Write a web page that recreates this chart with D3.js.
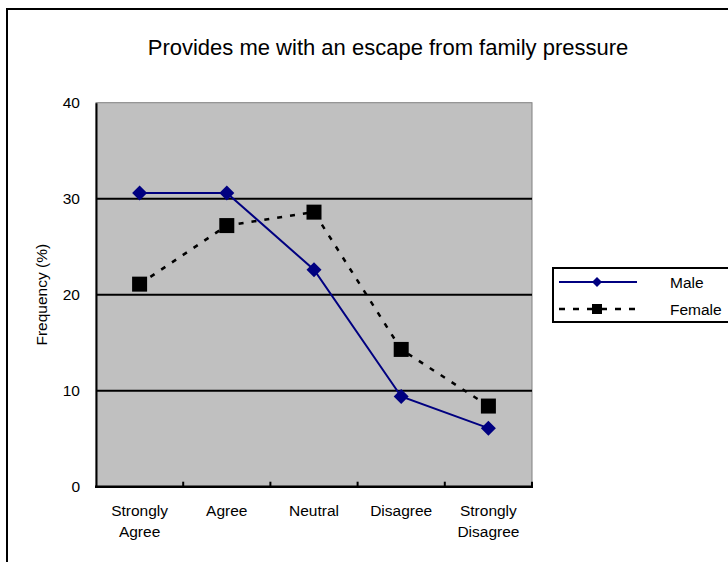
<!DOCTYPE html>
<html>
<head>
<meta charset="utf-8">
<script src="https://cdn.jsdelivr.net/npm/d3@7"></script>
<style>
  html, body { margin: 0; padding: 0; background: #fff; }
  svg { display: block; font-family: "Liberation Sans", Arial, sans-serif; }
</style>
</head>
<body>
<svg id="chart" width="728" height="562"></svg>
<script>
// Survey responses: "Provides me with an escape from family pressure"
const categories = ["Strongly Agree", "Agree", "Neutral", "Disagree", "Strongly Disagree"];
const maleValues = [30.6, 30.6, 22.6, 9.4, 6.1];
const femaleValues = [21.1, 27.2, 28.6, 14.3, 8.4];
const yTicks = [0, 10, 20, 30, 40];
const title = "Provides me with an escape from family pressure";
const yLabel = "Frequency (%)";

const svg = d3.select("#chart");
const labelSize = 15.5;

// Chart frame (runs off the right and bottom edges)
svg.append("rect")
  .attr("x", 7).attr("y", 9)
  .attr("width", 740).attr("height", 580)
  .attr("fill", "#fff").attr("stroke", "#000").attr("stroke-width", 2);

const plot = { left: 96, top: 102.7, right: 532, bottom: 486.7 };

const x = d3.scaleBand().domain(categories).range([plot.left, plot.right]).padding(0);
const y = d3.scaleLinear().domain([0, 40]).range([plot.bottom, plot.top]);
const cx = d => x(d) + x.bandwidth() / 2;

// Plot area
svg.append("rect")
  .attr("x", plot.left).attr("y", plot.top)
  .attr("width", plot.right - plot.left).attr("height", plot.bottom - plot.top)
  .attr("fill", "#c0c0c0").attr("stroke", "#808080").attr("stroke-width", 1);

// Gridlines
svg.append("g").selectAll("line")
  .data(yTicks.filter(t => t > 0 && t < 40))
  .join("line")
  .attr("x1", plot.left).attr("x2", plot.right)
  .attr("y1", d => y(d)).attr("y2", d => y(d))
  .attr("stroke", "#000").attr("stroke-width", 2);

// Y axis
const yAxis = d3.axisLeft(y).tickValues(yTicks).tickSize(0).tickPadding(16);
const gy = svg.append("g").attr("transform", `translate(${plot.left},0)`).call(yAxis);
gy.select(".domain").attr("stroke", "#000").attr("stroke-width", 2);
gy.selectAll("text").attr("font-size", labelSize).attr("fill", "#000")
  .attr("font-family", "Liberation Sans, Arial, sans-serif");

// X axis with inward tick marks at category boundaries
const gx = svg.append("g").attr("transform", `translate(0,${plot.bottom})`);
gx.append("line")
  .attr("x1", plot.left - 1).attr("x2", plot.right + 1)
  .attr("y1", 0).attr("y2", 0)
  .attr("stroke", "#000").attr("stroke-width", 2.5);
gx.selectAll(".tick")
  .data(categories.slice(1).concat(["__end"]))
  .join("line")
  .attr("x1", d => d === "__end" ? plot.right : x(d))
  .attr("x2", d => d === "__end" ? plot.right : x(d))
  .attr("y1", 0).attr("y2", -5)
  .attr("stroke", "#000").attr("stroke-width", 2);

// Category labels (wrapped onto two lines where needed)
const catLabels = gx.selectAll(".cat")
  .data(categories)
  .join("text")
  .attr("class", "cat")
  .attr("text-anchor", "middle")
  .attr("font-size", labelSize)
  .attr("fill", "#000");
catLabels.each(function(d) {
  const words = d.split(" ");
  const t = d3.select(this);
  words.forEach((w, i) => {
    t.append("tspan").attr("x", cx(d)).attr("y", 29 + i * 21).text(w);
  });
});

// Title
svg.append("text")
  .attr("x", 388).attr("y", 55)
  .attr("text-anchor", "middle")
  .attr("font-size", 22)
  .attr("fill", "#000")
  .text(title);

// Y axis label
svg.append("text")
  .attr("transform", `translate(47,${(plot.top + plot.bottom) / 2}) rotate(-90)`)
  .attr("text-anchor", "middle")
  .attr("font-size", labelSize)
  .attr("fill", "#000")
  .text(yLabel);

// Series
const line = d3.line().x(d => cx(d.cat)).y(d => y(d.v));
const male = categories.map((c, i) => ({ cat: c, v: maleValues[i] }));
const female = categories.map((c, i) => ({ cat: c, v: femaleValues[i] }));

svg.append("path").datum(female)
  .attr("d", line).attr("fill", "none")
  .attr("stroke", "#000").attr("stroke-width", 2.5)
  .attr("stroke-dasharray", "5,8");

svg.append("path").datum(male)
  .attr("d", line).attr("fill", "none")
  .attr("stroke", "#000080").attr("stroke-width", 2);

const diamond = s => `M0,${-s}L${s},0L0,${s}L${-s},0Z`;

svg.append("g").selectAll("rect")
  .data(female).join("rect")
  .attr("x", d => cx(d.cat) - 7.5).attr("y", d => y(d.v) - 7.5)
  .attr("width", 15).attr("height", 15)
  .attr("fill", "#000");

svg.append("g").selectAll("path")
  .data(male).join("path")
  .attr("transform", d => `translate(${cx(d.cat)},${y(d.v)})`)
  .attr("d", diamond(7.5))
  .attr("fill", "#000080");

// Legend
const lg = svg.append("g");
lg.append("rect")
  .attr("x", 553).attr("y", 268)
  .attr("width", 200).attr("height", 54)
  .attr("fill", "#fff").attr("stroke", "#000").attr("stroke-width", 2);

const legendItems = [
  { name: "Male", y: 282, color: "#000080", dash: null, w: 2, marker: "diamond" },
  { name: "Female", y: 309, color: "#000", dash: "6,8", w: 2.5, marker: "square" }
];
legendItems.forEach(it => {
  lg.append("line")
    .attr("x1", 559).attr("x2", 637)
    .attr("y1", it.y).attr("y2", it.y)
    .attr("stroke", it.color).attr("stroke-width", it.w)
    .attr("stroke-dasharray", it.dash);
  if (it.marker === "diamond") {
    lg.append("path")
      .attr("transform", `translate(597,${it.y})`)
      .attr("d", diamond(5))
      .attr("fill", it.color);
  } else {
    lg.append("rect")
      .attr("x", 592).attr("y", it.y - 5)
      .attr("width", 10).attr("height", 10)
      .attr("fill", it.color);
  }
  lg.append("text")
    .attr("x", 670).attr("y", it.y + 5.5)
    .attr("font-size", labelSize)
    .attr("fill", "#000")
    .text(it.name);
});
</script>
</body>
</html>
